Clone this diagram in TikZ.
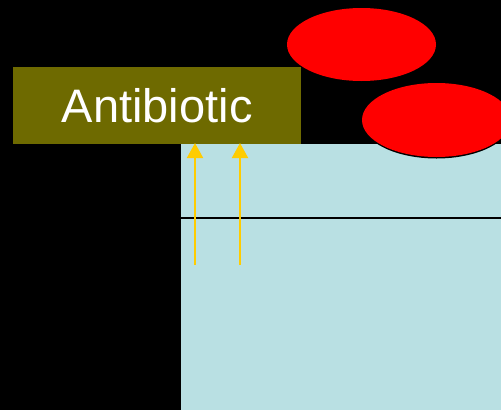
\documentclass[tikz,border=0pt]{standalone}
\usepackage{fontspec}
\setmainfont{Liberation Sans}
\usetikzlibrary{arrows.meta}
\definecolor{olivebox}{RGB}{110,106,0}
\definecolor{cellblue}{RGB}{185,224,227}
\definecolor{arrowyellow}{RGB}{255,204,0}
\tikzset{
  redcell/.style={fill=red,draw=none},
  uparrow/.style={draw=arrowyellow,line width=2pt,-{Triangle[width=16pt,length=15pt]}},
}
\begin{document}
\begin{tikzpicture}[x=1pt,y=-1pt]
\useasboundingbox (0,0) rectangle (501,410);
\fill[black] (0,0) rectangle (501,410);
% membrane block
\fill[cellblue] (181,144) rectangle (501,410);
\draw[black,line width=2pt] (181,218) -- (501,218);
% antibiotic box
\node[fill=olivebox,minimum width=288pt,minimum height=77pt,inner sep=0pt,
  text=white,font=\fontsize{47}{50}\selectfont,anchor=north west] (ab) at (13,67) {Antibiotic};
% red ellipses
\fill[redcell] (361.5,44.5) ellipse [x radius=74.5pt,y radius=36.5pt];
\fill[black] (436.5,121.5) ellipse [x radius=74.5pt,y radius=37pt];
\fill[redcell] (436.5,120) ellipse [x radius=74.5pt,y radius=37pt];
% arrows
\coordinate (a1s) at (195,265);
\coordinate (a1e) at (195,143);
\coordinate (a2s) at (240,265);
\coordinate (a2e) at (240,143);
\draw[uparrow] (a1s) -- (a1e);
\draw[uparrow] (a2s) -- (a2e);
\end{tikzpicture}
\end{document}
